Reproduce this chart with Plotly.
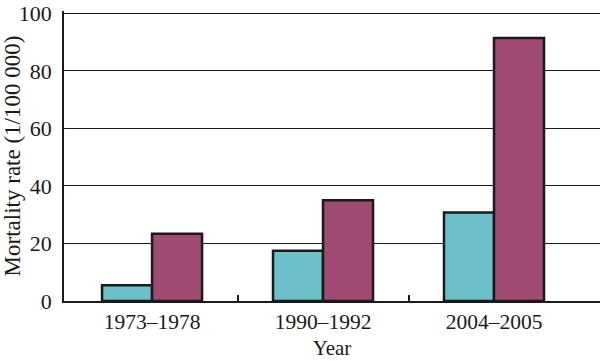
import plotly.graph_objects as go

categories = ["1973\u20131978", "1990\u20131992", "2004\u20132005"]
series_a = [5.5, 17.5, 30.8]
series_b = [23.4, 35.0, 91.4]
y_ticks = [0, 20, 40, 60, 80, 100]

xpos = list(range(len(categories)))
sep = [i + 0.5 for i in range(len(categories) - 1)]

font_family = "Liberation Serif, Times New Roman, serif"

fig = go.Figure()
fig.add_trace(go.Bar(x=xpos, y=series_a, marker=dict(color="#6cc0ca", line=dict(color="#1a1a1a", width=2.5)), name="A"))
fig.add_trace(go.Bar(x=xpos, y=series_b, marker=dict(color="#a14a73", line=dict(color="#1a1a1a", width=2.5)), name="B"))
# invisible trace to carry separator ticks
fig.add_trace(go.Scatter(x=sep, y=[0] * len(sep), xaxis="x2", mode="markers", marker=dict(opacity=0), showlegend=False, hoverinfo="skip"))

xr = [-0.515, 2.62]
fig.update_layout(
    width=600, height=361,
    margin=dict(l=64, r=0, t=11, b=60),
    paper_bgcolor="white", plot_bgcolor="white",
    barmode="group", bargap=0.415, bargroupgap=0,
    showlegend=False,
    font=dict(family=font_family, size=21, color="#1a1a1a"),
    xaxis=dict(range=xr, tickvals=xpos, ticktext=categories, ticks="", showline=True,
               linecolor="#1a1a1a", linewidth=1.5, showgrid=False, zeroline=False,
               automargin=False,
               title=dict(text="Year", standoff=8, font=dict(size=21)),
               tickfont=dict(size=21.5)),
    xaxis2=dict(range=xr, overlaying="x", tickvals=sep, ticktext=["", ""], ticks="inside",
                ticklen=6, tickcolor="#1a1a1a", tickwidth=1.5, showgrid=False, zeroline=False,
                showline=False, side="bottom", anchor="y", automargin=False),
    yaxis=dict(range=[0, 100.8], tickvals=y_ticks, showgrid=True, gridcolor="#1a1a1a", gridwidth=1,
               showline=True, linecolor="#1a1a1a", linewidth=1.5, zeroline=False, ticks="",
               ticklabelstandoff=6, automargin=False, ticklabeloverflow="allow",
               title=dict(text="Mortality rate (1/100 000)", standoff=2, font=dict(size=23)),
               tickfont=dict(size=22)),
)

fig.write_html("out.html", post_script="document.body.style.margin='0';",
               config={"displayModeBar": False})
